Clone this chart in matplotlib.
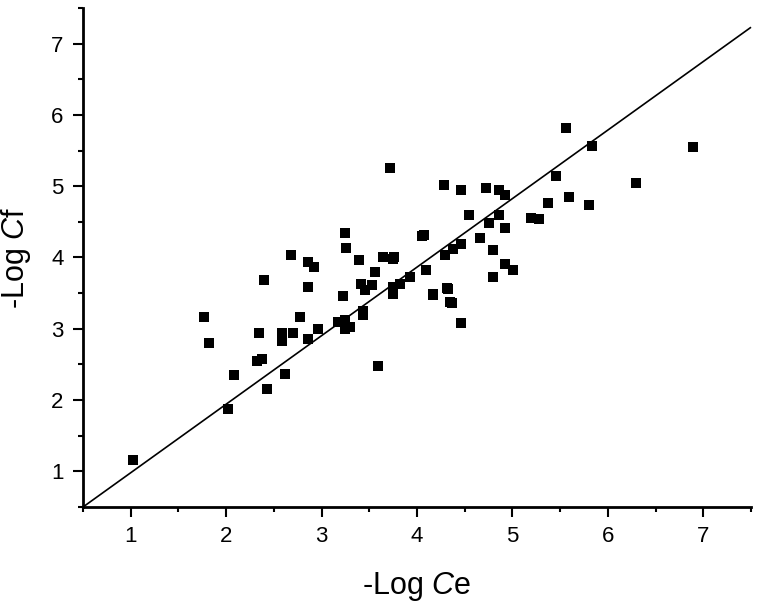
"""Scatter of -Log Cf vs -Log Ce with a fitted line."""
import matplotlib
matplotlib.use("Agg")
import matplotlib.pyplot as plt
from matplotlib.ticker import MultipleLocator

plt.rcParams["font.family"] = ["Liberation Sans", "DejaVu Sans"]
plt.rcParams["mathtext.fontset"] = "custom"
plt.rcParams["mathtext.rm"] = "Liberation Sans"
plt.rcParams["mathtext.it"] = "Liberation Sans:italic"

# -Log Ce (x) and -Log Cf (y)
log_ce = [
    1.02, 2.02, 1.77, 1.82, 2.08, 2.43, 2.32, 2.38, 2.62, 2.34,
    2.59, 2.58, 2.70, 2.86, 2.77, 2.96, 2.40, 2.86, 2.68, 2.86,
    2.92, 3.17, 3.25, 3.25, 3.30, 3.43, 3.43, 3.22, 3.25, 3.26,
    3.59, 3.39, 3.41, 3.45, 3.53, 3.56, 3.64, 3.72, 3.75, 3.76,
    3.75, 3.75, 3.82, 3.93, 4.05, 4.07, 4.09, 4.17, 4.17, 4.28,
    4.29, 4.31, 4.32, 4.35, 4.37, 4.38, 4.46, 4.46, 4.46, 4.54,
    4.66, 4.72, 4.75, 4.80, 4.80, 4.86, 4.86, 4.92, 4.92, 4.92,
    5.01, 5.19, 5.28, 5.37, 5.46, 5.56, 5.59, 5.80, 5.83, 6.29,
    6.89,
]
log_cf = [
    1.16, 1.87, 3.17, 2.80, 2.35, 2.16, 2.55, 2.58, 2.37, 2.94,
    2.94, 2.83, 2.94, 2.86, 3.17, 3.00, 3.69, 3.59, 4.04, 3.94,
    3.86, 3.09, 3.12, 2.99, 3.03, 3.25, 3.20, 3.46, 4.35, 4.14,
    2.48, 3.96, 3.63, 3.54, 3.61, 3.80, 4.01, 5.25, 3.58, 4.01,
    3.98, 3.49, 3.63, 3.73, 4.30, 4.32, 3.83, 3.48, 3.49, 5.01,
    4.03, 3.57, 3.56, 3.37, 3.36, 4.12, 4.94, 4.19, 3.08, 4.59,
    4.28, 4.97, 4.49, 4.11, 3.72, 4.94, 4.59, 4.88, 4.42, 3.91,
    3.83, 4.55, 4.54, 4.77, 5.14, 5.81, 4.85, 4.74, 5.56, 5.04,
    5.55,
]

# fitted line end points
fit_x = [0.5, 7.5]
fit_y = [0.50, 7.23]

fig = plt.figure(figsize=(7.61, 6.05), dpi=100)
ax = fig.add_axes([0.1091, 0.1620, 0.8778, 0.8248])

ax.plot(fit_x, fit_y, color="black", lw=1.2, solid_capstyle="butt", clip_on=False)
ax.plot(log_ce, log_cf, "s", color="black", ms=6.5, mew=0, clip_on=False)

ax.set_xlim(0.5, 7.5)
ax.set_ylim(0.5, 7.5)
ax.xaxis.set_major_locator(MultipleLocator(1))
ax.xaxis.set_minor_locator(MultipleLocator(0.5))
ax.yaxis.set_major_locator(MultipleLocator(1))
ax.yaxis.set_minor_locator(MultipleLocator(0.5))

for side in ("top", "right"):
    ax.spines[side].set_visible(False)
for side in ("left", "bottom"):
    ax.spines[side].set_linewidth(2.0)

ax.tick_params(which="major", direction="out", length=7, width=1.5,
               labelsize=16, pad=7)
ax.tick_params(which="minor", direction="out", length=3.5, width=1.5)

ax.set_xlabel(r"-Log $\mathit{C}$e", fontsize=22, labelpad=16)
ax.set_ylabel(r"-Log $\mathit{C}$f", fontsize=22, labelpad=13)

fig.savefig("out.png", dpi=100)
